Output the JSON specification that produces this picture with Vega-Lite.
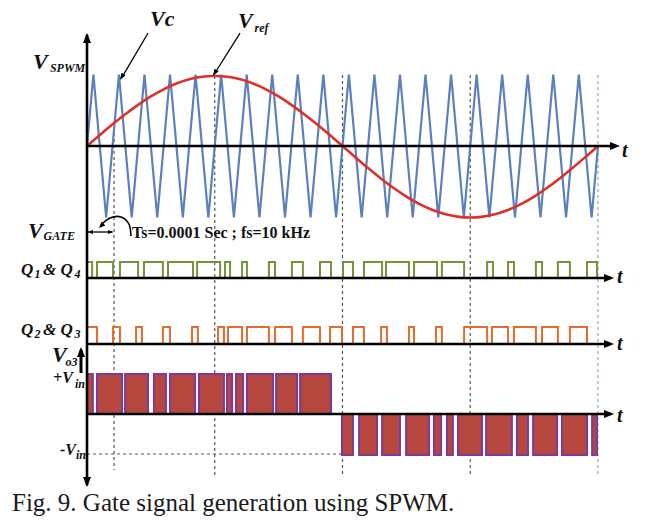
{
 "$schema": "https://vega.github.io/schema/vega-lite/v6.json",
 "width": 646, "height": 531,
 "autosize": {"type": "fit", "contains": "padding"},
 "padding": 0,
 "background": "white",
 "config": {"view": {"stroke": null}},
 "datasets": {
  "carrier": [
   {"t":0,"v":0},{"t":0.025,"v":1},{"t":0.075,"v":-1},{"t":0.125,"v":1},{"t":0.175,"v":-1},{"t":0.225,"v":1},{"t":0.275,"v":-1},{"t":0.325,"v":1},{"t":0.375,"v":-1},{"t":0.425,"v":1},{"t":0.475,"v":-1},{"t":0.525,"v":1},{"t":0.575,"v":-1},{"t":0.625,"v":1},{"t":0.675,"v":-1},{"t":0.725,"v":1},{"t":0.775,"v":-1},{"t":0.825,"v":1},{"t":0.875,"v":-1},{"t":0.925,"v":1},{"t":0.975,"v":-1},{"t":1.025,"v":1},{"t":1.075,"v":-1},{"t":1.125,"v":1},{"t":1.175,"v":-1},{"t":1.225,"v":1},{"t":1.275,"v":-1},{"t":1.325,"v":1},{"t":1.375,"v":-1},{"t":1.425,"v":1},{"t":1.475,"v":-1},{"t":1.525,"v":1},{"t":1.575,"v":-1},{"t":1.625,"v":1},{"t":1.675,"v":-1},{"t":1.725,"v":1},{"t":1.775,"v":-1},{"t":1.825,"v":1},{"t":1.875,"v":-1},{"t":1.925,"v":1},{"t":1.975,"v":-1},{"t":2.0,"v":0}
  ],
  "ref": [
   {"t":0,"v":0},{"t":0.05,"v":0.153},{"t":0.1,"v":0.303},{"t":0.15,"v":0.445},{"t":0.2,"v":0.576},{"t":0.25,"v":0.693},{"t":0.3,"v":0.793},{"t":0.35,"v":0.873},{"t":0.4,"v":0.932},{"t":0.45,"v":0.968},{"t":0.5,"v":0.98},{"t":0.55,"v":0.968},{"t":0.6,"v":0.932},{"t":0.65,"v":0.873},{"t":0.7,"v":0.793},{"t":0.75,"v":0.693},{"t":0.8,"v":0.576},{"t":0.85,"v":0.445},{"t":0.9,"v":0.303},{"t":0.95,"v":0.153},{"t":1.0,"v":0},{"t":1.05,"v":-0.156},{"t":1.1,"v":-0.309},{"t":1.15,"v":-0.454},{"t":1.2,"v":-0.588},{"t":1.25,"v":-0.707},{"t":1.3,"v":-0.809},{"t":1.35,"v":-0.891},{"t":1.4,"v":-0.951},{"t":1.45,"v":-0.988},{"t":1.5,"v":-1},{"t":1.55,"v":-0.988},{"t":1.6,"v":-0.951},{"t":1.65,"v":-0.891},{"t":1.7,"v":-0.809},{"t":1.75,"v":-0.707},{"t":1.8,"v":-0.588},{"t":1.85,"v":-0.454},{"t":1.9,"v":-0.309},{"t":1.95,"v":-0.156},{"t":2.0,"v":0}
  ],
  "q14": [
   {"t":0,"t2":0.020,"v":-1.622,"v2":-1.846},{"t":0.039,"t2":0.102,"v":-1.622,"v2":-1.846},{"t":0.129,"t2":0.200,"v":-1.622,"v2":-1.846},{"t":0.223,"t2":0.297,"v":-1.622,"v2":-1.846},{"t":0.317,"t2":0.415,"v":-1.622,"v2":-1.846},{"t":0.431,"t2":0.521,"v":-1.622,"v2":-1.846},{"t":0.540,"t2":0.560,"v":-1.622,"v2":-1.846},{"t":0.607,"t2":0.626,"v":-1.622,"v2":-1.846},{"t":0.712,"t2":0.736,"v":-1.622,"v2":-1.846},{"t":0.802,"t2":0.845,"v":-1.622,"v2":-1.846},{"t":0.912,"t2":0.955,"v":-1.622,"v2":-1.846},{"t":1.002,"t2":1.041,"v":-1.622,"v2":-1.846},{"t":1.084,"t2":1.155,"v":-1.622,"v2":-1.846},{"t":1.170,"t2":1.260,"v":-1.622,"v2":-1.846},{"t":1.280,"t2":1.370,"v":-1.622,"v2":-1.846},{"t":1.389,"t2":1.476,"v":-1.622,"v2":-1.846},{"t":1.566,"t2":1.589,"v":-1.622,"v2":-1.846},{"t":1.648,"t2":1.671,"v":-1.622,"v2":-1.846},{"t":1.757,"t2":1.781,"v":-1.622,"v2":-1.846},{"t":1.843,"t2":1.890,"v":-1.622,"v2":-1.846},{"t":1.957,"t2":1.996,"v":-1.622,"v2":-1.846}
  ],
  "q23": [
   {"t":0,"t2":0.039,"v":-2.531,"v2":-2.769},{"t":0.102,"t2":0.129,"v":-2.531,"v2":-2.769},{"t":0.192,"t2":0.215,"v":-2.531,"v2":-2.769},{"t":0.297,"t2":0.325,"v":-2.531,"v2":-2.769},{"t":0.411,"t2":0.434,"v":-2.531,"v2":-2.769},{"t":0.513,"t2":0.536,"v":-2.531,"v2":-2.769},{"t":0.552,"t2":0.607,"v":-2.531,"v2":-2.769},{"t":0.626,"t2":0.712,"v":-2.531,"v2":-2.769},{"t":0.736,"t2":0.802,"v":-2.531,"v2":-2.769},{"t":0.845,"t2":0.912,"v":-2.531,"v2":-2.769},{"t":0.951,"t2":0.998,"v":-2.531,"v2":-2.769},{"t":1.041,"t2":1.084,"v":-2.531,"v2":-2.769},{"t":1.151,"t2":1.174,"v":-2.531,"v2":-2.769},{"t":1.260,"t2":1.280,"v":-2.531,"v2":-2.769},{"t":1.366,"t2":1.389,"v":-2.531,"v2":-2.769},{"t":1.476,"t2":1.566,"v":-2.531,"v2":-2.769},{"t":1.585,"t2":1.648,"v":-2.531,"v2":-2.769},{"t":1.671,"t2":1.757,"v":-2.531,"v2":-2.769},{"t":1.781,"t2":1.843,"v":-2.531,"v2":-2.769},{"t":1.890,"t2":1.957,"v":-2.531,"v2":-2.769}
  ],
  "vo3": [
   {"t":0,"t2":0.023,"v":-3.189,"v2":-3.748},{"t":0.039,"t2":0.137,"v":-3.189,"v2":-3.748},{"t":0.149,"t2":0.239,"v":-3.189,"v2":-3.748},{"t":0.262,"t2":0.309,"v":-3.189,"v2":-3.748},{"t":0.325,"t2":0.423,"v":-3.189,"v2":-3.748},{"t":0.438,"t2":0.536,"v":-3.189,"v2":-3.748},{"t":0.548,"t2":0.568,"v":-3.189,"v2":-3.748},{"t":0.583,"t2":0.611,"v":-3.189,"v2":-3.748},{"t":0.626,"t2":0.728,"v":-3.189,"v2":-3.748},{"t":0.740,"t2":0.822,"v":-3.189,"v2":-3.748},{"t":0.834,"t2":0.955,"v":-3.189,"v2":-3.748},
   {"t":0.998,"t2":1.041,"v":-3.748,"v2":-4.322},{"t":1.065,"t2":1.135,"v":-3.748,"v2":-4.322},{"t":1.155,"t2":1.225,"v":-3.748,"v2":-4.322},{"t":1.249,"t2":1.339,"v":-3.748,"v2":-4.322},{"t":1.358,"t2":1.386,"v":-3.748,"v2":-4.322},{"t":1.409,"t2":1.432,"v":-3.748,"v2":-4.322},{"t":1.452,"t2":1.546,"v":-3.748,"v2":-4.322},{"t":1.562,"t2":1.663,"v":-3.748,"v2":-4.322},{"t":1.683,"t2":1.726,"v":-3.748,"v2":-4.322},{"t":1.746,"t2":1.840,"v":-3.748,"v2":-4.322},{"t":1.859,"t2":1.957,"v":-3.748,"v2":-4.322},{"t":1.977,"t2":1.996,"v":-3.748,"v2":-4.322}
  ],
  "dash": [
   {"t":0.106,"v":0.266,"v2":-4.531,"kind":"dark"},
   {"t":0.5,"v":0.979,"v2":-4.629,"kind":"dark"},
   {"t":1.0,"v":0.993,"v2":-4.629,"kind":"dark"},
   {"t":1.5,"v":0.993,"v2":-4.629,"kind":"dark"},
   {"t":2.0,"v":0.993,"v2":-4.629,"kind":"light"}
  ],
  "hdash": [{"t":0,"t2":1.0,"v":-4.308}],
  "axes": [
   {"t":0,"v":1.56,"t2":0,"v2":-4.75},
   {"t":0,"v":0,"t2":2.07,"v2":0},
   {"t":0,"v":-1.846,"t2":2.05,"v2":-1.846},
   {"t":0,"v":-2.769,"t2":2.05,"v2":-2.769},
   {"t":0,"v":-3.748,"t2":2.05,"v2":-3.748}
  ],
  "thinlines": [
   {"t":0.239,"v":1.580,"t2":0.135,"v2":0.95},
   {"t":0.599,"v":1.580,"t2":0.497,"v2":1.0},
   {"t":0.004,"v":-1.203,"t2":0.1,"v2":-1.203}
  ],
  "vo3arrow": [{"t":-0.0235,"v":-3.175,"t2":-0.0235,"v2":-2.85}],
  "curve": [
   {"t":0.172,"v":-1.259},{"t":0.164,"v":-1.091},{"t":0.133,"v":-0.993},{"t":0.090,"v":-1.007},{"t":0.055,"v":-1.105}
  ],
  "heads_main": [
   {"t":0,"v":1.580,"dir":"u"},
   {"t":0,"v":-4.769,"dir":"d"},
   {"t":2.086,"v":0,"dir":"r"},
   {"t":2.063,"v":-1.846,"dir":"r"},
   {"t":2.063,"v":-2.769,"dir":"r"},
   {"t":2.063,"v":-3.748,"dir":"r"},
   {"t":-0.0235,"v":-2.811,"dir":"u"}
  ],
  "heads_small": [
   {"t":0.004,"v":-1.203,"dir":"l"},
   {"t":0.102,"v":-1.203,"dir":"r"}
  ],
  "heads_angled": [
   {"t":0.129,"v":0.923},
   {"t":0.493,"v":0.979}
  ],
  "heads_curve": [{"t":0.047,"v":-1.147}],
  "txt_big": [
   {"t":-0.211,"v":1.077,"label":"V"},
   {"t":0.247,"v":1.678,"label":"Vc"},
   {"t":0.591,"v":1.650,"label":"V"},
   {"t":-0.231,"v":-1.287,"label":"V"},
   {"t":-0.137,"v":-3.021,"label":"V"}
  ],
  "txt_sub": [
   {"t":-0.145,"v":1.035,"label":"SPWM"},
   {"t":0.656,"v":1.594,"label":"ref"},
   {"t":-0.170,"v":-1.315,"label":"GATE"},
   {"t":-0.084,"v":-3.077,"label":"o3"},
   {"t":-0.047,"v":-3.385,"label":"in"},
   {"t":-0.043,"v":-4.378,"label":"in"},
   {"t":-0.205,"v":-1.846,"label":"1"},
   {"t":-0.049,"v":-1.846,"label":"4"},
   {"t":-0.205,"v":-2.685,"label":"2"},
   {"t":-0.049,"v":-2.685,"label":"3"}
  ],
  "txt_q": [
   {"t":-0.258,"v":-1.804,"label":"Q"},
   {"t":-0.172,"v":-1.804,"label":"& Q"},
   {"t":-0.258,"v":-2.643,"label":"Q"},
   {"t":-0.172,"v":-2.643,"label":"& Q"}
  ],
  "txt_vin": [
   {"t":-0.133,"v":-3.315,"label":"+V"},
   {"t":-0.106,"v":-4.322,"label":"-V"}
  ],
  "txt_t": [
   {"t":2.094,"v":-0.154,"label":"t"},
   {"t":2.074,"v":-1.916,"label":"t"},
   {"t":2.074,"v":-2.853,"label":"t"},
   {"t":2.074,"v":-3.860,"label":"t"}
  ],
  "txt_ts": [{"t":0.176,"v":-1.287,"label":"Ts=0.0001 Sec ; fs=10 kHz"}],
  "txt_cap": [{"t":-0.2935,"v":-5.105,"label":"Fig. 9. Gate signal generation using SPWM."}]
 },
 "encoding": {
  "x": {"field": "t", "type": "quantitative", "scale": {"domain": [-0.3405, 2.1879], "nice": false, "zero": false}, "axis": null},
  "y": {"field": "v", "type": "quantitative", "scale": {"domain": [-5.385, 2.042], "nice": false, "zero": false}, "axis": null}
 },
 "layer": [
  {"data": {"name": "dash"}, "mark": {"type": "rule", "strokeDash": [3, 3], "strokeWidth": 1.2},
   "encoding": {"y2": {"field": "v2"}, "color": {"field": "kind", "type": "nominal", "scale": {"domain": ["dark", "light"], "range": ["#555555", "#8fa3cc"]}, "legend": null}}},
  {"data": {"name": "hdash"}, "mark": {"type": "rule", "strokeDash": [3, 3], "strokeWidth": 1.2, "color": "#555555"},
   "encoding": {"x2": {"field": "t2"}}},
  {"data": {"name": "carrier"}, "mark": {"type": "line", "color": "#5b80bd", "strokeWidth": 2.2}},
  {"data": {"name": "ref"}, "mark": {"type": "line", "color": "#dd3127", "strokeWidth": 2.6, "interpolate": "monotone"}},
  {"data": {"name": "q14"}, "mark": {"type": "rect", "fill": "white", "fillOpacity": 0, "stroke": "#76923c", "strokeWidth": 2},
   "encoding": {"x2": {"field": "t2"}, "y2": {"field": "v2"}}},
  {"data": {"name": "q23"}, "mark": {"type": "rect", "fill": "white", "fillOpacity": 0, "stroke": "#e36c2a", "strokeWidth": 2},
   "encoding": {"x2": {"field": "t2"}, "y2": {"field": "v2"}}},
  {"data": {"name": "vo3"}, "mark": {"type": "rect", "fill": "#b5473f", "fillOpacity": 1, "stroke": "#7a3b9a", "strokeWidth": 2},
   "encoding": {"x2": {"field": "t2"}, "y2": {"field": "v2"}}},
  {"data": {"name": "axes"}, "mark": {"type": "rule", "color": "#000000", "strokeWidth": 2.6},
   "encoding": {"x2": {"field": "t2"}, "y2": {"field": "v2"}}},
  {"data": {"name": "vo3arrow"}, "mark": {"type": "rule", "color": "#000000", "strokeWidth": 3},
   "encoding": {"x2": {"field": "t2"}, "y2": {"field": "v2"}}},
  {"data": {"name": "thinlines"}, "mark": {"type": "rule", "color": "#000000", "strokeWidth": 1.3},
   "encoding": {"x2": {"field": "t2"}, "y2": {"field": "v2"}}},
  {"data": {"name": "curve"}, "mark": {"type": "line", "color": "#000000", "strokeWidth": 1.6, "interpolate": "cardinal"},
   "encoding": {"order": {"field": "t", "sort": "descending"}}},
  {"data": {"name": "heads_main"}, "mark": {"type": "point", "filled": true, "color": "#000000", "opacity": 1, "size": 400, "strokeWidth": 0},
   "encoding": {"shape": {"field": "dir", "type": "nominal", "scale": {"domain": ["r", "u", "d", "l"], "range": ["M0,0L-1,-0.4L-1,0.4Z", "M0,0L-0.4,1L0.4,1Z", "M0,0L-0.4,-1L0.4,-1Z", "M0,0L1,-0.4L1,0.4Z"]}, "legend": null}}},
  {"data": {"name": "heads_small"}, "mark": {"type": "point", "filled": true, "color": "#000000", "opacity": 1, "size": 100, "strokeWidth": 0},
   "encoding": {"shape": {"field": "dir", "type": "nominal", "scale": {"domain": ["r", "u", "d", "l"], "range": ["M0,0L-1,-0.4L-1,0.4Z", "M0,0L-0.4,1L0.4,1Z", "M0,0L-0.4,-1L0.4,-1Z", "M0,0L1,-0.4L1,0.4Z"]}, "legend": null}}},
  {"data": {"name": "heads_angled"}, "mark": {"type": "point", "filled": true, "color": "#000000", "opacity": 1, "size": 100, "strokeWidth": 0, "shape": "M0,0L-1.4,-0.5L-1.4,0.5Z", "angle": 121}},
  {"data": {"name": "heads_curve"}, "mark": {"type": "point", "filled": true, "color": "#000000", "opacity": 1, "size": 80, "strokeWidth": 0, "shape": "M0,0L-1.4,-0.6L-1.4,0.6Z", "angle": 135}},
  {"data": {"name": "txt_big"}, "mark": {"type": "text", "font": "Liberation Serif", "fontSize": 22, "fontWeight": "bold", "fontStyle": "italic", "align": "left", "baseline": "alphabetic", "color": "#111111"},
   "encoding": {"text": {"field": "label"}}},
  {"data": {"name": "txt_sub"}, "mark": {"type": "text", "font": "Liberation Serif", "fontSize": 12, "fontWeight": "bold", "fontStyle": "italic", "align": "left", "baseline": "alphabetic", "color": "#111111"},
   "encoding": {"text": {"field": "label"}}},
  {"data": {"name": "txt_q"}, "mark": {"type": "text", "font": "Liberation Serif", "fontSize": 17, "fontWeight": "bold", "fontStyle": "italic", "align": "left", "baseline": "alphabetic", "color": "#111111"},
   "encoding": {"text": {"field": "label"}}},
  {"data": {"name": "txt_vin"}, "mark": {"type": "text", "font": "Liberation Serif", "fontSize": 16, "fontWeight": "bold", "fontStyle": "italic", "align": "left", "baseline": "alphabetic", "color": "#111111"},
   "encoding": {"text": {"field": "label"}}},
  {"data": {"name": "txt_t"}, "mark": {"type": "text", "font": "Liberation Serif", "fontSize": 20, "fontWeight": "bold", "fontStyle": "italic", "align": "left", "baseline": "alphabetic", "color": "#111111"},
   "encoding": {"text": {"field": "label"}}},
  {"data": {"name": "txt_ts"}, "mark": {"type": "text", "font": "Liberation Serif", "fontSize": 16, "fontWeight": "bold", "align": "left", "baseline": "alphabetic", "color": "#111111"},
   "encoding": {"text": {"field": "label"}}},
  {"data": {"name": "txt_cap"}, "mark": {"type": "text", "font": "Liberation Serif", "fontSize": 25, "align": "left", "baseline": "alphabetic", "color": "#1a1a1a"},
   "encoding": {"text": {"field": "label"}}}
 ]
}
